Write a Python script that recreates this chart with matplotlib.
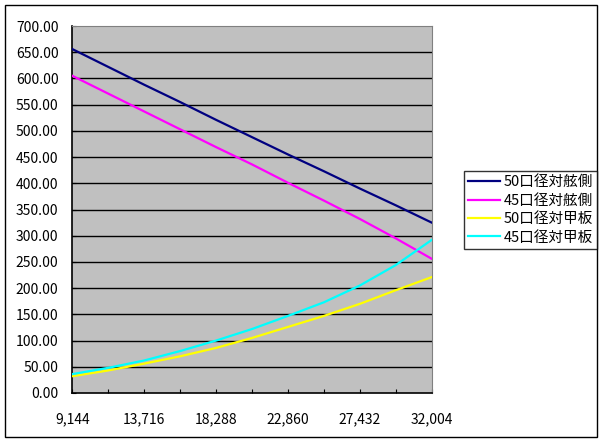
import matplotlib
matplotlib.use("Agg")
import matplotlib.pyplot as plt
from matplotlib.patches import Rectangle

plt.rcParams['font.family'] = ['Noto Sans CJK JP', 'DejaVu Sans']

# range (m), one point per 2,286 m
DISTANCES = [9144, 11430, 13716, 16002, 18288, 20574, 22860, 25146, 27432, 29718, 32004]
BELT_50 = [656, 622, 588, 555, 521, 488, 455, 423, 390, 358, 325]
BELT_45 = [605, 571, 537, 503, 469, 436, 401, 367, 332, 295, 256]
DECK_50 = [32, 43, 56, 70, 86, 105, 126, 147, 170, 196, 221]
DECK_45 = [36, 48, 62, 80, 100, 122, 147, 173, 205, 244, 292]
SERIES = [
    ("50口径対舷側", BELT_50, "#000080"),
    ("45口径対舷側", BELT_45, "#FF00FF"),
    ("50口径対甲板", DECK_50, "#FFFF00"),
    ("45口径対甲板", DECK_45, "#00FFFF"),
]

W, H = 604, 442
fig = plt.figure(figsize=(W / 100, H / 100), dpi=100)
ax = fig.add_axes([72.3 / W, (H - 393) / H, 359.4 / W, 367 / H])
ax.set_facecolor("#C0C0C0")

xs = list(range(len(DISTANCES)))
handles = []
for label, vals, color in SERIES:
    h, = ax.plot(xs, vals, color=color, lw=1.6, label=label, zorder=3)
    handles.append(h)

ax.set_xlim(0, len(DISTANCES) - 1)
ax.set_ylim(0, 700)
ax.set_yticks(range(0, 701, 50))
ax.set_yticklabels([f"{v:.2f}" for v in range(0, 701, 50)])
ax.set_xticks(xs)
ax.set_xticklabels([f"{d:,}" if i % 2 == 0 else "" for i, d in enumerate(DISTANCES)])
for v in range(50, 700, 50):
    ax.axhline(v, color="black", lw=1.0, zorder=1)

ax.tick_params(axis="x", direction="in", length=3, pad=14, labelsize=10, colors="black")
ax.tick_params(axis="y", direction="in", length=3, pad=10, labelsize=10, colors="black")
for side in ("top", "right"):
    ax.spines[side].set_color("#808080")
for side in ("left", "bottom"):
    ax.spines[side].set_color("black")
    ax.spines[side].set_linewidth(1.2)

leg = fig.legend(handles=handles, loc="upper left",
                 bbox_to_anchor=(464 / W, 1 - 171 / H),
                 frameon=True, fancybox=False, edgecolor="black",
                 fontsize=10.5, handlelength=2.2, handletextpad=0.2,
                 labelspacing=0.3, borderpad=0.3, borderaxespad=0)
leg.get_frame().set_linewidth(1.0)

fig.patches.append(Rectangle((5 / W, 5 / H), 592 / W, 432 / H, transform=fig.transFigure,
                             fill=False, edgecolor="black", lw=1.0))

fig.savefig("out.png", dpi=100)
